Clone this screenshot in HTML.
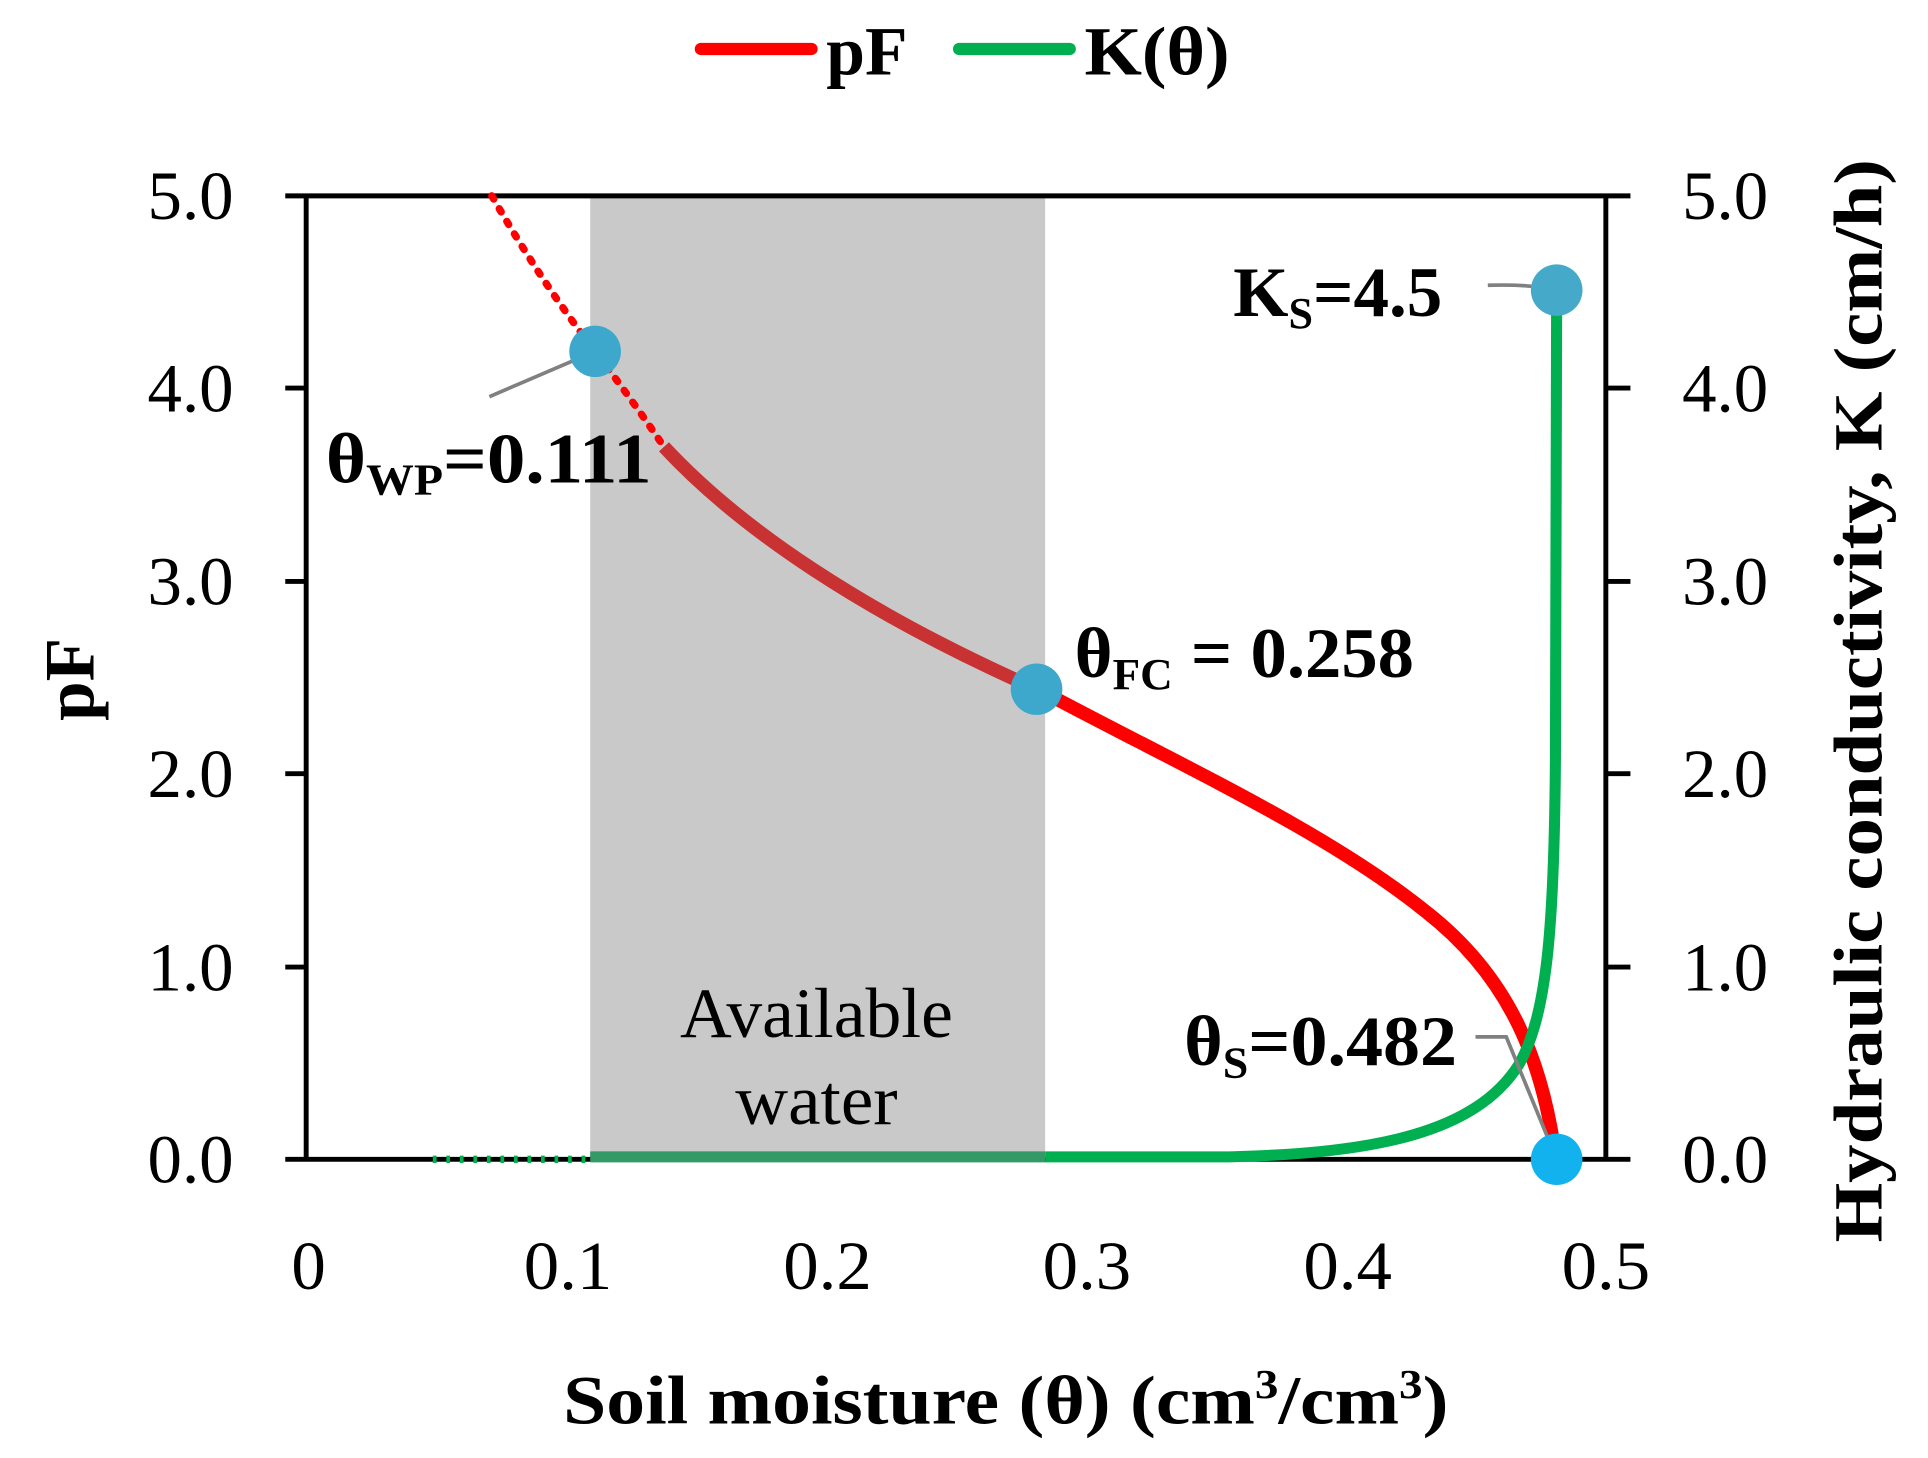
<!DOCTYPE html>
<html><head><meta charset="utf-8"><style>html,body{margin:0;padding:0;background:#fff}svg{display:block}</style></head>
<body>
<svg width="1928" height="1458" viewBox="0 0 1568 1191" preserveAspectRatio="none" xmlns="http://www.w3.org/2000/svg" font-family="'Liberation Serif', serif">
<rect width="1568" height="1191" fill="#fff"/>
<rect x="480" y="160" width="370" height="787" fill="#c9c9c9"/>
<g stroke="#000" stroke-width="4">
<line x1="232" y1="160" x2="1326" y2="160"/>
<line x1="232" y1="947" x2="1326" y2="947"/>
<line x1="249" y1="160" x2="249" y2="947"/>
<line x1="1306" y1="160" x2="1306" y2="947"/>
<line x1="232" y1="317" x2="249" y2="317"/><line x1="232" y1="475" x2="249" y2="475"/><line x1="232" y1="632" x2="249" y2="632"/><line x1="232" y1="790" x2="249" y2="790"/>
<line x1="1306" y1="317" x2="1326" y2="317"/><line x1="1306" y1="475" x2="1326" y2="475"/><line x1="1306" y1="632" x2="1326" y2="632"/><line x1="1306" y1="790" x2="1326" y2="790"/>
</g>
<g font-size="56" fill="#000" text-anchor="end">
<text x="190" y="179" textLength="70" lengthAdjust="spacingAndGlyphs">5.0</text><text x="190" y="336" textLength="70" lengthAdjust="spacingAndGlyphs">4.0</text><text x="190" y="494" textLength="70" lengthAdjust="spacingAndGlyphs">3.0</text><text x="190" y="651" textLength="70" lengthAdjust="spacingAndGlyphs">2.0</text><text x="190" y="809" textLength="70" lengthAdjust="spacingAndGlyphs">1.0</text><text x="190" y="966" textLength="70" lengthAdjust="spacingAndGlyphs">0.0</text>
</g>
<g font-size="56" fill="#000">
<text x="1368" y="179" textLength="70" lengthAdjust="spacingAndGlyphs">5.0</text><text x="1368" y="336" textLength="70" lengthAdjust="spacingAndGlyphs">4.0</text><text x="1368" y="494" textLength="70" lengthAdjust="spacingAndGlyphs">3.0</text><text x="1368" y="651" textLength="70" lengthAdjust="spacingAndGlyphs">2.0</text><text x="1368" y="809" textLength="70" lengthAdjust="spacingAndGlyphs">1.0</text><text x="1368" y="966" textLength="70" lengthAdjust="spacingAndGlyphs">0.0</text>
</g>
<g font-size="56" fill="#000" text-anchor="middle">
<text x="251" y="1053">0</text>
<text x="462" y="1053" textLength="72" lengthAdjust="spacingAndGlyphs">0.1</text><text x="673" y="1053" textLength="72" lengthAdjust="spacingAndGlyphs">0.2</text><text x="884" y="1053" textLength="72" lengthAdjust="spacingAndGlyphs">0.3</text><text x="1096" y="1053" textLength="72" lengthAdjust="spacingAndGlyphs">0.4</text><text x="1306" y="1053" textLength="72" lengthAdjust="spacingAndGlyphs">0.5</text>
</g>
<text x="458" y="1163" font-size="56" font-weight="bold" textLength="720" lengthAdjust="spacingAndGlyphs">Soil moisture (θ) (cm<tspan font-size="34" dy="-21">3</tspan><tspan dy="21">/cm</tspan><tspan font-size="34" dy="-21">3</tspan><tspan dy="21">)</tspan></text>
<text transform="translate(76,555) rotate(-90)" font-size="58" font-weight="bold" text-anchor="middle">pF</text>
<text transform="translate(1530,1015) rotate(-90)" font-size="56" font-weight="bold" textLength="885" lengthAdjust="spacingAndGlyphs">Hydraulic conductivity, K  (cm/h)</text>
<line x1="570" y1="40" x2="660" y2="40" stroke="#ff0000" stroke-width="10" stroke-linecap="round"/>
<text x="672" y="61" font-size="56" font-weight="bold" textLength="66" lengthAdjust="spacingAndGlyphs">pF</text>
<line x1="780" y1="40" x2="870" y2="40" stroke="#00b050" stroke-width="10" stroke-linecap="round"/>
<text x="882" y="61" font-size="56" font-weight="bold" textLength="118" lengthAdjust="spacingAndGlyphs">K(θ)</text>
<path d="M400,160 Q440,230 484,287 Q515,328 540,365" fill="none" stroke="#ff0000" stroke-width="6" stroke-dasharray="3,9" stroke-linecap="round"/>
<path d="M540,365 C600,430 700,500 850,566" fill="none" stroke="#c83232" stroke-width="11"/>
<path d="M850,566 C960,625 1080,680 1160,745 C1230,800 1255,870 1265,945" fill="none" stroke="#ff0000" stroke-width="11"/>
<line x1="352" y1="947" x2="480" y2="947" stroke="#00b050" stroke-width="6" stroke-dasharray="3,8"/>
<line x1="480" y1="945" x2="850" y2="945" stroke="#339966" stroke-width="9"/>
<path d="M850,945 L1000,945 C1120,942 1200,925 1235,870 C1258,830 1264,760 1265,620 L1266,237" fill="none" stroke="#00b050" stroke-width="9"/>
<g stroke="#808080" stroke-width="3" fill="none">
<line x1="398" y1="324" x2="484" y2="287"/>
<path d="M1210,233 Q1245,232 1266,237"/>
<path d="M1200,847 L1225,847 L1266,947"/>
</g>
<circle cx="484" cy="287" r="21" fill="#3ea7cc"/>
<circle cx="843" cy="563" r="21" fill="#3ea7cc"/>
<circle cx="1266" cy="237" r="21" fill="#45a9c9"/>
<circle cx="1266" cy="947" r="21" fill="#12b2ee"/>
<g font-size="58" font-weight="bold" fill="#000">
<text x="265" y="394" textLength="265" lengthAdjust="spacingAndGlyphs">θ<tspan font-size="36" dy="10">WP</tspan><tspan dy="-10">=0.111</tspan></text>
<text x="874" y="553" textLength="276" lengthAdjust="spacingAndGlyphs">θ<tspan font-size="36" dy="10">FC</tspan><tspan dy="-10"> = 0.258</tspan></text>
<text x="1003" y="258" textLength="170" lengthAdjust="spacingAndGlyphs">K<tspan font-size="36" dy="10">S</tspan><tspan dy="-10">=4.5</tspan></text>
<text x="963" y="870" textLength="222" lengthAdjust="spacingAndGlyphs">θ<tspan font-size="36" dy="10">S</tspan><tspan dy="-10">=0.482</tspan></text>
</g>
<g font-size="58" fill="#000" text-anchor="middle">
<text x="664" y="847" textLength="222" lengthAdjust="spacingAndGlyphs">Available</text>
<text x="664" y="918" textLength="132" lengthAdjust="spacingAndGlyphs">water</text>
</g>
</svg>
</body></html>
